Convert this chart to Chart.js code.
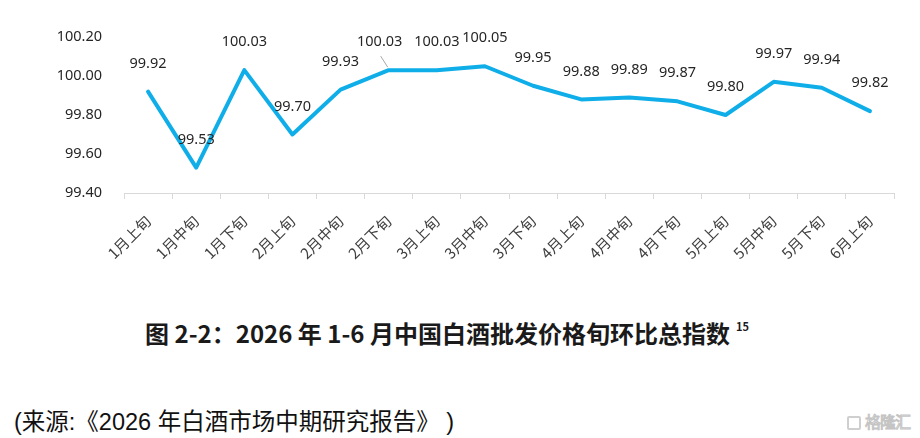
<!DOCTYPE html>
<html><head><meta charset="utf-8">
<script src="https://cdn.jsdelivr.net/npm/chart.js@4"></script>
<style>
html,body{margin:0;padding:0;background:#fff;width:920px;height:438px;overflow:hidden;}
#wrap{position:absolute;left:0;top:0;width:920px;height:300px;}
#title{position:absolute;left:0;width:920px;top:315px;text-align:center;font-family:"Noto Sans CJK SC","Noto Sans",sans-serif;font-weight:bold;font-size:24px;color:#1a1a1a;padding-right:26px;box-sizing:border-box;}
#title sup{font-size:11px;vertical-align:12px;margin-left:6px;}
#src{position:absolute;left:14px;top:403px;font-family:"Liberation Sans","Noto Sans CJK SC",sans-serif;font-size:23.5px;color:#111;white-space:nowrap;}
#wm{position:absolute;left:847px;top:411px;font-family:"Noto Sans CJK SC",sans-serif;font-size:16px;line-height:20px;color:#fff;-webkit-text-stroke:1px #c4c4c4;letter-spacing:-1px;white-space:nowrap;}
#wm span{display:inline-block;border:2px solid #cfcfcf;border-radius:2px;width:14px;height:14px;vertical-align:-2px;margin-right:4px;font-size:11px;line-height:14px;text-align:center;color:#fff;box-sizing:border-box;}
</style></head>
<body>
<div id="wrap"><canvas id="c"></canvas></div>
<div id="title">图 2-2：2026 年 1-6 月中国白酒批发价格旬环比总指数<sup>15</sup></div>
<div id="src">(来源:《2026 年白酒市场中期研究报告》 )</div>
<div id="wm"><span></span>格隆汇</div>
<script>
const categories = ["1月上旬","1月中旬","1月下旬","2月上旬","2月中旬","2月下旬","3月上旬","3月中旬","3月下旬","4月上旬","4月中旬","4月下旬","5月上旬","5月中旬","5月下旬","6月上旬"];
const indexValues = [99.92,99.53,100.03,99.70,99.93,100.03,100.03,100.05,99.95,99.88,99.89,99.87,99.80,99.97,99.94,99.82];
const yTicks = [99.40,99.60,99.80,100.00,100.20];

const labelPlugin = {
  id: 'pointLabels',
  afterDatasetsDraw(chart) {
    const ctx = chart.ctx;
    const meta = chart.getDatasetMeta(0);
    ctx.save();
    ctx.font = '14.5px "Noto Sans", sans-serif';
    ctx.fillStyle = '#262626';
    ctx.textAlign = 'center';
    ctx.textBaseline = 'middle';
    meta.data.forEach((pt, i) => {
      let dx = 0;
      if (i === 5) {
        dx = -9;
        ctx.strokeStyle = '#a6a6a6';
        ctx.lineWidth = 1;
        ctx.beginPath();
        ctx.moveTo(pt.x - 8, pt.y - 14);
        ctx.lineTo(pt.x - 1, pt.y - 3);
        ctx.stroke();
      }
      ctx.fillText(indexValues[i].toFixed(2), pt.x + dx, pt.y - 28);
    });
    ctx.restore();
  }
};

new Chart(document.getElementById('c'), {
  type: 'line',
  data: {
    labels: categories,
    datasets: [{
      data: indexValues,
      borderColor: '#0FAEE9',
      borderWidth: 4,
      pointRadius: 0,
      tension: 0,
      borderJoinStyle: 'round',
      borderCapStyle: 'round',
      fill: false
    }]
  },
  options: {
    responsive: true,
    maintainAspectRatio: false,
    animation: false,
    layout: { padding: { top: 37, right: 26, left: 0, bottom: 0 } },
    plugins: { legend: { display: false }, tooltip: { enabled: false } },
    scales: {
      x: {
        offset: true,
        grid: { display: true, offset: true, drawOnChartArea: false, drawTicks: true, tickLength: 6, color: '#d9d9d9', lineWidth: 1 },
        border: { display: true, color: '#d9d9d9', width: 1 },
        ticks: { minRotation: 45, maxRotation: 45, autoSkip: false, padding: 13, color: '#404040', font: { family: '"Noto Sans CJK SC", sans-serif', size: 15 } },
        afterFit(s) { s.height = 107; }
      },
      y: {
        min: yTicks[0],
        max: yTicks[yTicks.length - 1],
        afterBuildTicks(s) { s.ticks = yTicks.map(v => ({ value: v })); },
        grid: { display: false, drawTicks: false },
        border: { display: false },
        ticks: { padding: 22, color: '#262626', font: { family: '"Noto Sans", sans-serif', size: 14.5 }, callback: v => Number(v).toFixed(2) },
        afterFit(s) { s.width = 124; }
      }
    }
  },
  plugins: [labelPlugin]
});
</script>
</body></html>
